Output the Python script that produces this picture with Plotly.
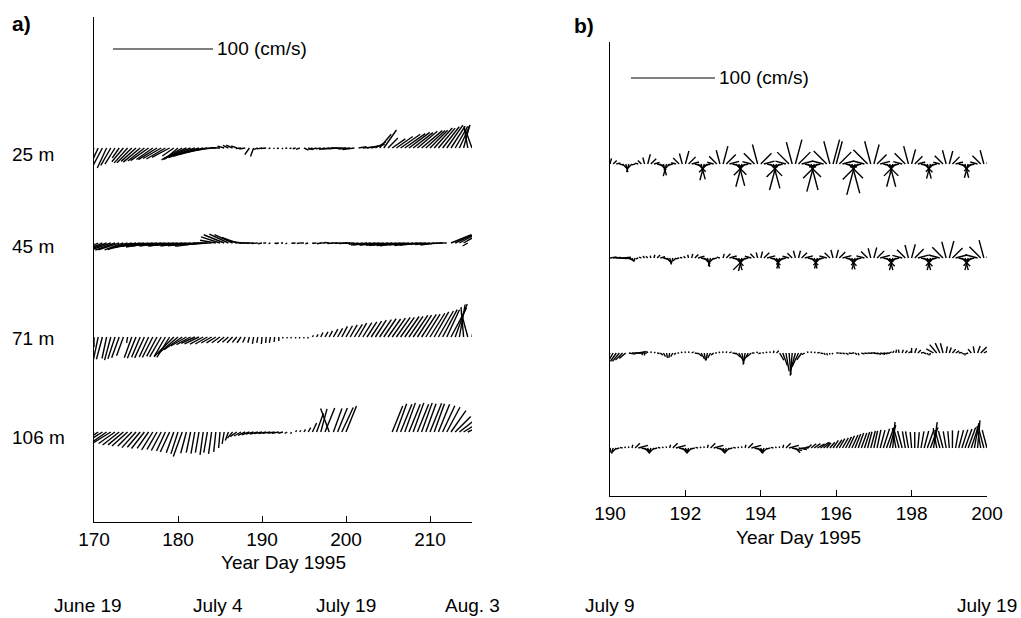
import numpy as np
import plotly.graph_objects as go

W, H = 1021, 618
FONT = "Liberation Sans, Arial, sans-serif"

# ---------------- Panel a: low-passed currents, 0.5-day sampling ----------------
A_T0, A_DT = 170.0, 0.5
A_TICKS = [170, 180, 190, 200, 210]
A_DEPTHS = ["25 m", "45 m", "71 m", "106 m"]

# direction (deg, clockwise from north) and speed (cm/s)
A25_DIR = [205, 205, 208, 205, 210, 212, 215, 220, 222, 225,
           228, 230, 232, 235, 235, 238, 240, 240, 242, 235,
           230, 240, 245, 248, 250, 252, 255, 258, 262, 268,
           272, 285, 295, 295, 290, 265, 260, 215, 200, 250,
           260, 265, 250, 240, 250, 230, 260, 250, 255, 250,
           115, 110, 250, 255, 260, 255, 260, 265, 265, 270,
           268, 265, 262, 80, 85, 80, 75, 60, 40, 35,
           45, 55, 55, 55, 55, 53, 52, 50, 50, 48,
           45, 42, 40, 38, 35, 33, 30, 25, 15, 350,
           340]
A25_SPD = [20, 21, 20, 22, 20, 19, 12, 18, 20, 21,
           20, 22, 21, 22, 20, 22, 21, 22, 20, 14,
           18, 24, 26, 27, 28, 27, 25, 22, 15, 12,
           9, 7, 6, 7, 6, 5, 6, 8, 9, 4,
           5, 5, 2, 1.5, 2, 1.5, 2, 2, 3, 4,
           5, 5, 4, 5, 5, 6, 7, 8, 9, 10,
           10, 12, 12, 8, 10, 12, 14, 12, 18, 22,
           14, 16, 20, 24, 25, 26, 25, 26, 27, 26,
           25, 27, 26, 27, 28, 26, 25, 25, 24, 22,
           20]

A45_DIR = [215, 240, 245, 248, 250, 250, 252, 250, 252, 255,
           258, 260, 262, 260, 262, 263, 262, 264, 262, 263,
           264, 262, 265, 263, 264, 262, 265, 266, 270, 280,
           288, 292, 295, 295, 290, 280, 272, 270, 268, 265,
           260, 270, 250, 110, 260, 270, 240, 100, 265, 260,
           270, 255, 110, 265, 260, 270, 275, 265, 270, 268,
           265, 270, 268, 262, 260, 262, 264, 262, 265, 263,
           262, 264, 263, 262, 265, 264, 262, 263, 265, 266,
           264, 262, 265, 268, 270, 68, 65, 62, 60, 240,
           None]
A45_SPD = [14, 18, 20, 22, 22, 21, 22, 20, 21, 20,
           22, 21, 22, 23, 22, 24, 22, 23, 22, 24,
           23, 22, 24, 23, 22, 24, 23, 21, 18, 16,
           20, 22, 21, 20, 16, 12, 10, 10, 8, 6,
           4, 3, 2, 2, 3, 2, 2, 2, 3, 3,
           4, 3, 2, 4, 4, 5, 5, 6, 6, 7,
           7, 8, 9, 10, 12, 14, 15, 16, 17, 18,
           19, 20, 20, 21, 20, 20, 19, 18, 17, 16,
           15, 14, 12, 10, 8, 22, 24, 22, 15, 6,
           None]

A71_DIR = [180, 192, 195, 192, 195, 198, 200, 200, 190, 200,
           202, 203, 205, 205, 207, 208, 210, 210, 212, 225,
           230, 235, 240, 242, 245, 245, 242, 240, 240, 238,
           235, 230, 228, 225, 220, 215, 205, 195, 190, 190,
           185, 185, 190, 185, 180, 200, 190, 210, 180, 200,
           190, 200, 30, 30, 25, 30, 28, 30, 30, 28,
           30, 30, 32, 30, 32, 33, 33, 33, 34, 34,
           35, 35, 35, 35, 35, 34, 34, 33, 33, 32,
           32, 30, 30, 28, 25, 28, 20, 10, 355, 345,
           10]
A71_SPD = [10, 24, 23, 22, 24, 23, 22, 20, 6, 22,
           23, 22, 23, 22, 23, 22, 23, 22, 24, 28,
           26, 22, 18, 16, 15, 16, 15, 14, 12, 11,
           10, 9, 8, 8, 7, 7, 6, 6, 7, 6,
           7, 6, 6, 5, 4, 1.5, 1.5, 1.5, 1.5, 1.5,
           1.5, 1.5, 2, 3, 5, 6, 7, 9, 10, 12,
           13, 14, 15, 16, 17, 18, 19, 20, 21, 22,
           22, 23, 24, 24, 25, 25, 26, 26, 27, 27,
           28, 29, 30, 31, 30, 33, 35, 33, 30, 25,
           15]

A106_DIR = [225, 235, 237, 235, 238, 235, 232, 230, 228, 225,
            222, 220, 218, 215, 212, 210, 208, 205, 205, 200,
            198, 200, 195, 192, 190, 190, 188, 190, 188, 186,
            185, 190, 200, 220, 235, 240, 245, 250, 255, 255,
            258, 258, 260, 260, 260, 255, 240, 200, 30, 30,
            30, 30, 25, 20, 15, 22, 340, 20, 22, 25,
            22, None, None, None, None, None, None, None, None, None,
            None, 22, 20, 22, 20, 22, 20, 22, 20, 20,
            22, 20, 22, 25, 28, 35, 45, 52, 58, 65,
            None]
A106_SPD = [12, 20, 21, 20, 21, 20, 21, 20, 21, 20,
            21, 20, 21, 20, 21, 20, 21, 21, 22, 22,
            23, 26, 22, 21, 22, 21, 23, 21, 22, 20,
            16, 12, 9, 8, 8, 8, 8, 8, 8, 8,
            8, 8, 8, 7, 7, 5, 3, 2, 2, 2,
            3, 5, 10, 20, 24, 26, 25, 25, 26, 27,
            28, None, None, None, None, None, None, None, None, None,
            None, 28, 30, 30, 31, 30, 31, 30, 31, 30,
            31, 30, 30, 29, 28, 26, 22, 18, 15, 10,
            None]

# ---------------- Panel b: hourly-resolved currents, 2-hour sampling ----------------
B_T0, B_DT = 190.0, 1.0 / 12.0
B_TICKS = [190, 192, 194, 196, 198, 200]

B25_DIR = [15, 45, 75, 105, 135, 165, 195, 225, 255, 285, 315, 345,
           15, 45, 75, 105, 135, 165, 195, 225, 255, 285, 315, 345,
           15, 45, 75, 105, 135, 165, 195, 225, 255, 285, 315, 345,
           15, 45, 75, 105, 135, 165, 195, 225, 255, 285, 315, 345,
           45, 75, 105, 135, 165, 195, 225, 255, 285, 315, 345, 15,
           45, 75, 105, 135, 165, 195, 225, 255, 285, 315, 345, 15,
           15, 45, 75, 105, 135, 165, 195, 225, 255, 285, 315, 345,
           15, 45, 75, 105, 135, 165, 195, 225, 255, 285, 315, 345,
           15, 45, 75, 105, 135, 165, 195, 225, 255, 285, 315, 345,
           15, 45, 75, 105, 135, 165, 195, 225, 255, 285, 315, 345,
           15]
B25_SPD = [7, 6, 5, 5, 7, 10, 10, 7, 4, 4, 6, 8,
           12, 9, 7, 7, 10, 14, 15, 10, 6, 6, 10, 13,
           16, 12, 9, 9, 13, 19, 20, 14, 8, 8, 13, 17,
           22, 16, 12, 12, 18, 27, 28, 19, 11, 11, 18, 24,
           18, 13, 13, 20, 30, 32, 22, 13, 13, 20, 27, 30,
           20, 14, 14, 22, 32, 34, 24, 14, 14, 22, 28, 30,
           28, 20, 14, 14, 24, 36, 38, 26, 14, 14, 24, 28,
           24, 16, 12, 12, 20, 28, 28, 20, 11, 11, 18, 22,
           18, 13, 9, 9, 14, 18, 18, 13, 8, 8, 14, 17,
           16, 12, 9, 9, 13, 17, 17, 12, 8, 9, 14, 17,
           15]

B45_DIR = [80, 85, 90, 95, 85, 100, 120, 150, 200, 250, 290, 320,
           315, 345, 15, 45, 75, 105, 135, 165, 195, 225, 255, 285,
           315, 345, 15, 45, 75, 105, 135, 165, 195, 225, 255, 285,
           15, 45, 75, 105, 135, 165, 195, 225, 255, 285, 315, 345,
           15, 45, 75, 105, 135, 165, 195, 225, 255, 285, 315, 345,
           15, 45, 75, 105, 135, 165, 195, 225, 255, 285, 315, 345,
           15, 45, 75, 105, 135, 165, 195, 225, 255, 285, 315, 345,
           15, 45, 75, 105, 135, 165, 195, 225, 255, 285, 315, 345,
           15, 45, 75, 105, 135, 165, 195, 225, 255, 285, 315, 345,
           15, 45, 75, 105, 135, 165, 195, 225, 255, 285, 315, 345,
           15]
B45_SPD = [8, 9, 10, 9, 10, 8, 6, 5, 4, 3, 3, 3,
           3, 3, 4, 5, 6, 7, 8, 8, 7, 5, 4, 3,
           3, 4, 5, 6, 8, 9, 10, 11, 10, 7, 5, 4,
           5, 7, 9, 11, 13, 15, 16, 20, 12, 8, 7, 7,
           8, 9, 10, 11, 12, 13, 13, 11, 9, 8, 8, 9,
           9, 9, 10, 11, 12, 13, 13, 12, 10, 9, 9, 10,
           10, 10, 11, 12, 13, 14, 14, 12, 10, 10, 11, 12,
           13, 12, 12, 13, 14, 15, 15, 13, 11, 12, 14, 16,
           17, 15, 13, 13, 14, 15, 15, 13, 12, 14, 18, 20,
           21, 17, 14, 13, 14, 15, 15, 13, 12, 15, 19, 22,
           20]

B71_DIR = [200, 210, 215, 220, 225, 230, 100, 90, 90, 80, 150, 180,
           345, 15, 60, 100, 130, 150, 170, 190, 210, 230, 270, 315,
           345, 15, 60, 100, 130, 150, 170, 190, 210, 230, 270, 315,
           345, 15, 60, 100, 130, 150, 170, 190, 210, 230, 270, 315,
           255, 285, 315, 345, 15, 45, 150, 160, 170, 175, 185, 195,
           205, 215, 240, 345, 15, 45, 75, 105, 135, 165, 195, 225,
           90, 100, 110, 120, 100, 90, 130, 160, 110, 100, 95, 90,
           100, 110, 105, 100, 95, 60, 30, 10, 350, 20, 40, 60,
           0, 20, 45, 80, 110, 150, 200, 300, 320, 335, 345, 10,
           20, 40, 60, 80, 120, 180, 250, 320, 350, 20, 45, 60,
           60]
B71_SPD = [10, 12, 12, 13, 12, 10, 8, 12, 14, 10, 3, 3,
           2, 2, 2, 3, 4, 5, 6, 6, 5, 3, 2, 2,
           2, 2, 3, 4, 6, 8, 9, 9, 7, 4, 2, 2,
           2, 2, 3, 5, 8, 11, 13, 14, 12, 8, 3, 2,
           3, 2, 2, 2, 3, 4, 10, 16, 22, 26, 27, 24,
           18, 10, 4, 2, 2, 2, 3, 3, 3, 3, 2, 2,
           3, 3, 3, 4, 4, 3, 3, 3, 4, 4, 5, 5,
           5, 5, 6, 5, 4, 3, 3, 4, 4, 4, 4, 4,
           6, 6, 5, 4, 3, 3, 3, 10, 13, 13, 12, 8,
           7, 6, 5, 4, 3, 3, 3, 6, 8, 9, 10, 9,
           8]

B106_DIR = [165, 195, 225, 255, 285, 315, 345, 15, 45, 75, 105, 135,
            165, 195, 225, 255, 285, 315, 345, 15, 45, 75, 105, 135,
            165, 195, 225, 255, 285, 315, 345, 15, 45, 75, 105, 135,
            165, 195, 225, 255, 285, 315, 345, 15, 45, 75, 105, 135,
            165, 195, 225, 255, 285, 315, 345, 15, 45, 75, 105, 135,
            100, 90, 70, 45, 50, 55, 60, 55, 50, 40, 40, 35,
            35, 30, 30, 28, 25, 25, 22, 20, 20, 18, 15, 15,
            12, 12, 15, 18, 20, 15, 5, 350, 345, 345, 350, 350,
            355, 0, 5, 10, 15, 20, 20, 8, 350, 345, 345, 350,
            355, 0, 10, 15, 18, 20, 20, 18, 10, 5, 350, 345,
            345]
B106_SPD = [6, 7, 7, 5, 3, 2, 2, 4, 8, 12, 12, 8,
            6, 7, 7, 5, 3, 2, 2, 4, 8, 12, 12, 8,
            6, 7, 7, 5, 3, 2, 2, 4, 8, 12, 12, 8,
            6, 7, 7, 5, 3, 2, 2, 4, 8, 12, 12, 8,
            6, 7, 7, 5, 3, 2, 2, 4, 8, 12, 12, 8,
            10, 8, 5, 6, 8, 9, 10, 12, 10, 8, 9, 11,
            12, 13, 14, 15, 16, 17, 18, 19, 19, 20, 20, 21,
            21, 22, 22, 24, 26, 28, 31, 24, 22, 21, 20, 20,
            19, 19, 19, 20, 21, 23, 26, 31, 24, 22, 21, 20,
            20, 21, 21, 22, 23, 24, 26, 28, 30, 33, 26, 24,
            22]

SCALE_LABEL = "100 (cm/s)"
SCALE_SPEED = 100

# ---------------- layout geometry (pixels) ----------------
PA = dict(x0=94, x1=472, top=17, bot=522, cms_px=1.00)
PB = dict(x0=610, x1=987, top=42, bot=496, cms_px=0.84)
A_BASE_PX = [148, 243, 337, 432]
B_BASE_PX = [164, 258, 353, 448]

def px_per_day(p, t0, t1):
    return (p["x1"] - p["x0"]) / (t1 - t0)

def sticks(t0, dt, dirs, spds, base_cms, kx):
    xs, ys = [], []
    for i, (d, s) in enumerate(zip(dirs, spds)):
        if d is None or s is None:
            continue
        t = t0 + i * dt
        u = s * np.sin(np.radians(d))
        v = s * np.cos(np.radians(d))
        xs += [t, t + u * kx, None]
        ys += [base_cms, base_cms + v, None]
    return xs, ys

fig = go.Figure()
line = dict(color="black", width=1.4)

# panel a
ppd_a = px_per_day(PA, 170, 215)
kx_a = PA["cms_px"] / ppd_a
a_rows = [(A25_DIR, A25_SPD), (A45_DIR, A45_SPD), (A71_DIR, A71_SPD), (A106_DIR, A106_SPD)]
for (d, s), bpx in zip(a_rows, A_BASE_PX):
    base = (PA["bot"] - bpx) / PA["cms_px"]
    xs, ys = sticks(A_T0, A_DT, d, s, base, kx_a)
    fig.add_trace(go.Scatter(x=xs, y=ys, mode="lines", line=line, xaxis="x", yaxis="y",
                             hoverinfo="skip", showlegend=False))
# scale bar a
sa_t = 170 + (113 - PA["x0"]) / ppd_a
sa_y = (PA["bot"] - 49) / PA["cms_px"]
xs, ys = sticks(sa_t, 0, [90], [SCALE_SPEED], sa_y, kx_a)
fig.add_trace(go.Scatter(x=xs, y=ys, mode="lines", line=dict(color="black", width=1.1),
                         xaxis="x", yaxis="y", hoverinfo="skip", showlegend=False))

# panel b
ppd_b = px_per_day(PB, 190, 200)
kx_b = PB["cms_px"] / ppd_b
b_rows = [(B25_DIR, B25_SPD), (B45_DIR, B45_SPD), (B71_DIR, B71_SPD), (B106_DIR, B106_SPD)]
for (d, s), bpx in zip(b_rows, B_BASE_PX):
    base = (PB["bot"] - bpx) / PB["cms_px"]
    xs, ys = sticks(B_T0, B_DT, d, s, base, kx_b)
    fig.add_trace(go.Scatter(x=xs, y=ys, mode="lines", line=line, xaxis="x2", yaxis="y2",
                             hoverinfo="skip", showlegend=False))
sb_t = 190 + (631 - PB["x0"]) / ppd_b
sb_y = (PB["bot"] - 78) / PB["cms_px"]
xs, ys = sticks(sb_t, 0, [90], [SCALE_SPEED], sb_y, kx_b)
fig.add_trace(go.Scatter(x=xs, y=ys, mode="lines", line=dict(color="black", width=1.1),
                         xaxis="x2", yaxis="y2", hoverinfo="skip", showlegend=False))

def xdom(p):
    return [p["x0"] / W, p["x1"] / W]

def ydom(p):
    return [(H - p["bot"]) / H, (H - p["top"]) / H]

axis_common = dict(showline=True, linecolor="black", linewidth=1.3, showgrid=False,
                   zeroline=False, fixedrange=True, automargin=False)
fig.update_layout(
    width=W, height=H, margin=dict(l=0, r=0, t=0, b=0, pad=0, autoexpand=False),
    paper_bgcolor="white", plot_bgcolor="white",
    font=dict(family=FONT, size=19, color="black"),
    xaxis=dict(domain=xdom(PA), range=[170, 215], anchor="y", ticks="inside", ticklen=6,
               tickwidth=1.2, tickcolor="black", tickvals=A_TICKS,
               tickfont=dict(size=19, family=FONT), **axis_common),
    yaxis=dict(domain=ydom(PA), range=[0, (PA["bot"] - PA["top"]) / PA["cms_px"]], anchor="x",
               ticks="", showticklabels=False, **axis_common),
    xaxis2=dict(domain=xdom(PB), range=[190, 200], anchor="y2", ticks="inside", ticklen=6,
                tickwidth=1.2, tickcolor="black", tickvals=B_TICKS,
                tickfont=dict(size=19, family=FONT), **axis_common),
    yaxis2=dict(domain=ydom(PB), range=[0, (PB["bot"] - PB["top"]) / PB["cms_px"]], anchor="x2",
                ticks="", showticklabels=False, **axis_common),
)

def ann(text, xpx, ypx, xanchor="center", size=19, bold=False):
    fig.add_annotation(text=("<b>%s</b>" % text) if bold else text, x=xpx / W, y=1 - ypx / H,
                       xref="paper", yref="paper", xanchor=xanchor, yanchor="middle",
                       showarrow=False, font=dict(family=FONT, size=size, color="black"))

ann("a)", 10, 23, "left", 21, True)
ann("b)", 572, 25, "left", 21, True)
# scale labels next to bars
fig.add_annotation(text=SCALE_LABEL, x=sa_t + SCALE_SPEED * kx_a, y=sa_y, xref="x", yref="y",
                   xanchor="left", yanchor="middle", xshift=2, showarrow=False,
                   font=dict(family=FONT, size=19))
fig.add_annotation(text=SCALE_LABEL, x=sb_t + SCALE_SPEED * kx_b, y=sb_y, xref="x2", yref="y2",
                   xanchor="left", yanchor="middle", xshift=2, showarrow=False,
                   font=dict(family=FONT, size=19))
for lab, ypx in zip(A_DEPTHS, [154, 246, 338, 437]):
    ann(lab, 10, ypx, "left")
ann("Year Day 1995", 283, 562)
ann("Year Day 1995", 798, 537)
for lab, xpx in zip(["June 19", "July 4", "July 19", "Aug. 3"], [88, 218, 346, 472]):
    ann(lab, xpx, 605)
for lab, xpx in zip(["July 9", "July 19"], [610, 987]):
    ann(lab, xpx, 605)

fig.write_html("out.html")
